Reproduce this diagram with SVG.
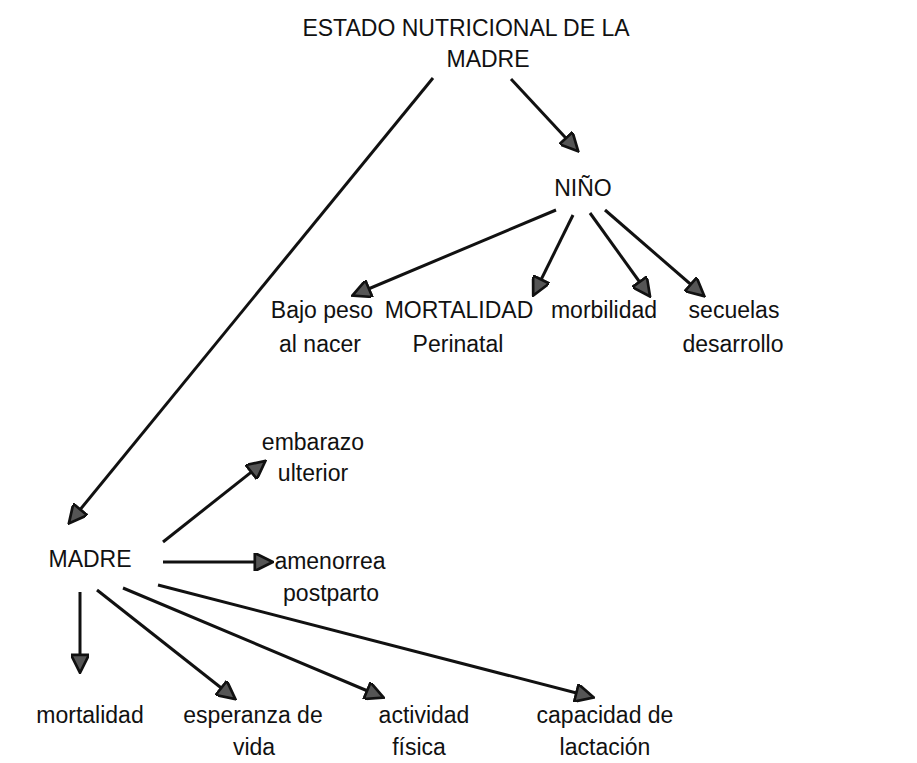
<svg xmlns="http://www.w3.org/2000/svg" width="917" height="763" viewBox="0 0 917 763">
<style>
text{font-family:"Liberation Sans",Arial,sans-serif;font-size:23px;fill:#111;text-anchor:middle}
.c line{stroke:#111;stroke-width:3;marker-end:url(#ah)}
</style>
<defs>
<marker id="ah" viewBox="0 0 10 10" refX="9" refY="5" markerWidth="7" markerHeight="6" orient="auto" markerUnits="strokeWidth">
<path d="M0,0 L10,5 L0,10 Z" fill="#555" stroke="#111" stroke-width="1.5"/>
</marker>
</defs>
<rect width="917" height="763" fill="#fff"/>
<g id="estado"><text x="466" y="36">ESTADO NUTRICIONAL DE LA</text><text x="488" y="67">MADRE</text></g>
<g id="nino"><text x="583" y="196">NIÑO</text></g>
<g id="bajo"><text x="322" y="318">Bajo peso</text><text x="320" y="352">al nacer</text></g>
<g id="mortperi"><text x="459" y="318">MORTALIDAD</text><text x="458" y="352">Perinatal</text></g>
<g id="morb"><text x="604" y="318">morbilidad</text></g>
<g id="secuelas"><text x="734" y="318">secuelas</text><text x="733" y="352">desarrollo</text></g>
<g id="madre"><text x="90" y="567">MADRE</text></g>
<g id="embarazo"><text x="313" y="450">embarazo</text><text x="313" y="481">ulterior</text></g>
<g id="amenorrea"><text x="330" y="569">amenorrea</text><text x="331" y="601">postparto</text></g>
<g id="mortalidad"><text x="90" y="723">mortalidad</text></g>
<g id="esperanza"><text x="253" y="723">esperanza de</text><text x="254" y="755">vida</text></g>
<g id="actividad"><text x="424" y="723">actividad</text><text x="419" y="755">física</text></g>
<g id="capacidad"><text x="605" y="723">capacidad de</text><text x="605" y="755">lactación</text></g>
<g class="c" id="connectors">
<line x1="433" y1="78" x2="70" y2="522"/>
<line x1="511" y1="79" x2="577" y2="150"/>
<line x1="556" y1="210" x2="354" y2="295"/>
<line x1="573" y1="215" x2="534" y2="294"/>
<line x1="590" y1="213" x2="649" y2="295"/>
<line x1="605" y1="210" x2="703" y2="295"/>
<line x1="163" y1="542" x2="264" y2="462"/>
<line x1="163" y1="562" x2="271" y2="562"/>
<line x1="80" y1="592" x2="80" y2="671"/>
<line x1="97" y1="590" x2="234" y2="698"/>
<line x1="123" y1="588" x2="382" y2="697"/>
<line x1="158" y1="585" x2="592" y2="697"/>
</g>
</svg>
